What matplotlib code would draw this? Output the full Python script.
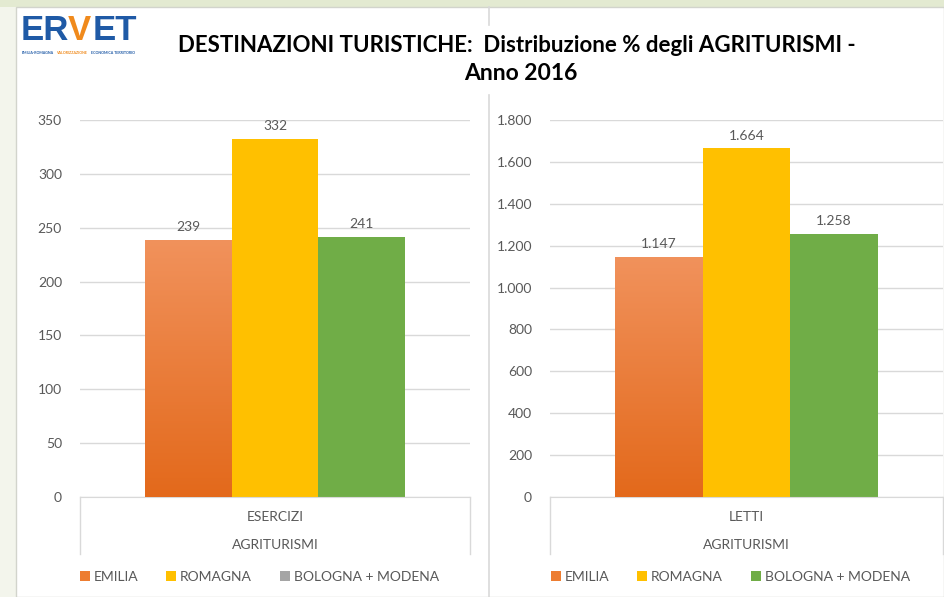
import numpy as np
import matplotlib
matplotlib.use("Agg")
import matplotlib.pyplot as plt
from matplotlib.patches import Rectangle, Patch
from matplotlib.lines import Line2D
from matplotlib.ticker import FuncFormatter, MultipleLocator

plt.rcParams['font.family'] = ['Lato', 'DejaVu Sans']

# data
regions = ['EMILIA', 'ROMAGNA', 'BOLOGNA + MODENA']
esercizi = [239, 332, 241]
letti = [1147, 1664, 1258]
group_label = 'AGRITURISMI'
colors = ['#ed7d31', '#ffc000', '#70ad47']
legend_left = ['#ed7d31', '#ffc000', '#a5a5a5']   # grey marker as in the original slide
legend_right = ['#ed7d31', '#ffc000', '#70ad47']

W, H = 944, 597
def fx(x):
    return x / W
def fy(y):
    return 1 - y / H

GRAY = '#595959'
GRID = '#d9d9d9'

fig = plt.figure(figsize=(W / 100, H / 100), dpi=100)
fig.patch.set_facecolor('#f3f5ec')

# slide background
fig.add_artist(Rectangle((0, fy(7)), 1, 7 / H, transform=fig.transFigure,
                         facecolor='#e3ead1', edgecolor='none', zorder=0))
fig.add_artist(Rectangle((fx(16), 0), 1 - fx(16), fy(7), transform=fig.transFigure,
                         facecolor='white', edgecolor='#d2d4cc', lw=1, zorder=0))
# separator between the two charts
for y0, y1 in [(7, 25), (95, 597)]:
    fig.add_artist(Line2D([fx(489), fx(489)], [fy(y0), fy(y1)], transform=fig.transFigure,
                          color=GRID, lw=1.2, zorder=1))

# logo
logo_y = fy(31)
fig.text(fx(21), logo_y, 'ER', color='#1f5aa6', fontsize=25, fontweight='bold',
         va='center', ha='left', family='Liberation Sans')
fig.text(fx(68), logo_y, 'V', color='#f08a1c', fontsize=25, fontweight='bold',
         va='center', ha='left', family='Liberation Sans')
fig.text(fx(93), logo_y, 'ET', color='#1f5aa6', fontsize=25, fontweight='bold',
         va='center', ha='left', family='Liberation Sans')
fig.text(fx(22), fy(53), 'EMILIA-ROMAGNA', color='#1f5aa6', fontsize=2.6,
         fontweight='bold', va='center', ha='left')
fig.text(fx(56), fy(53), 'VALORIZZAZIONE', color='#f08a1c', fontsize=2.6,
         fontweight='bold', va='center', ha='left')
fig.text(fx(91), fy(53), 'ECONOMICA TERRITORIO', color='#1f5aa6', fontsize=2.6,
         fontweight='bold', va='center', ha='left')

# title
fig.text(fx(517), fy(45), 'DESTINAZIONI TURISTICHE:  Distribuzione % degli AGRITURISMI -',
         ha='center', va='center', fontsize=16, fontweight='bold', color='black')
fig.text(fx(521), fy(73), 'Anno 2016', ha='center', va='center', fontsize=16.5,
         fontweight='bold', color='black')


def thousands(v, pos=None):
    return f'{int(round(v)):,}'.replace(',', '.')


def gradient_bar(ax, bar, top='#f1925c', bottom='#e3691b'):
    x0, y0 = bar.get_x(), bar.get_y()
    w, h = bar.get_width(), bar.get_height()
    c_top = np.array(matplotlib.colors.to_rgb(top))
    c_bot = np.array(matplotlib.colors.to_rgb(bottom))
    t = np.linspace(0, 1, 256)[:, None]
    img = (c_bot * (1 - t) + c_top * t)[:, None, :]
    im = ax.imshow(img, extent=[x0, x0 + w, y0, y0 + h], origin='lower',
                   aspect='auto', zorder=3)
    im.set_clip_path(bar)


def draw_panel(ax, values, ymax, step, cat, legend_colors, legend_x):
    width = 0.223
    xs = np.array([-1, 0, 1]) * width
    bars = ax.bar(xs, values, width=width, color=colors, zorder=2)
    gradient_bar(ax, bars[0])
    for b, v in zip(bars, values):
        ax.annotate(thousands(v), (b.get_x() + b.get_width() / 2, v),
                    xytext=(0, 5), textcoords='offset points', ha='center',
                    va='bottom', fontsize=10, color=GRAY)
    ax.set_xlim(-0.5, 0.5)
    ax.set_ylim(0, ymax)
    ax.yaxis.set_major_locator(MultipleLocator(step))
    ax.yaxis.set_major_formatter(FuncFormatter(thousands))
    ax.grid(axis='y', color=GRID, lw=1, zorder=0)
    ax.set_axisbelow(True)
    for s in ['top', 'right', 'left']:
        ax.spines[s].set_visible(False)
    ax.spines['bottom'].set_color(GRID)
    ax.tick_params(axis='y', length=0, pad=13, labelsize=10, labelcolor=GRAY)
    ax.set_xticks([])
    # multi-level category box
    depth = 57 / 377
    for xb in (0, 1):
        ax.plot([xb, xb], [0, -depth], transform=ax.transAxes, color=GRID,
                lw=1, clip_on=False)
    ax.text(0.5, -20 / 377, cat, transform=ax.transAxes, ha='center',
            va='center', fontsize=10, color=GRAY)
    ax.text(0.5, -48 / 377, group_label, transform=ax.transAxes, ha='center',
            va='center', fontsize=10, color=GRAY)
    handles = [Patch(facecolor=c, edgecolor='none') for c in legend_colors]
    leg = fig.legend(handles, regions, loc='center left', ncol=3, frameon=False,
                     bbox_to_anchor=(fx(legend_x), fy(577)), fontsize=10,
                     handlelength=0.7, handleheight=0.7, handletextpad=0.3,
                     columnspacing=2.0, borderpad=0, borderaxespad=0)
    for t in leg.get_texts():
        t.set_color(GRAY)


ax1 = fig.add_axes([fx(80), fy(497), 390 / W, 377 / H])
draw_panel(ax1, esercizi, 350, 50, 'ESERCIZI', legend_left, 80)

ax2 = fig.add_axes([fx(550), fy(497), 393 / W, 377 / H])
draw_panel(ax2, letti, 1800, 200, 'LETTI', legend_right, 551)

fig.savefig('out.png', dpi=100, facecolor=fig.get_facecolor())
